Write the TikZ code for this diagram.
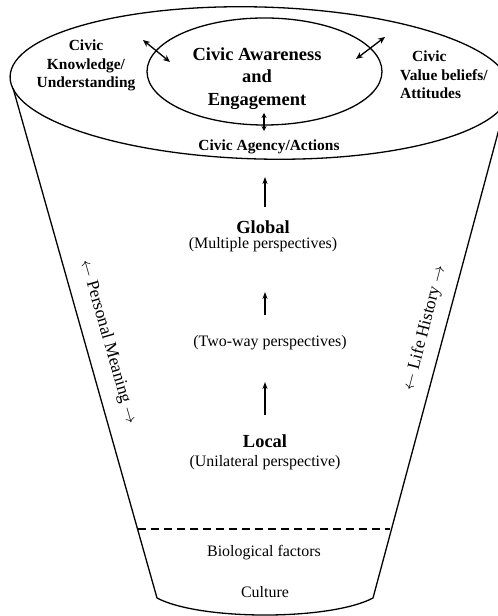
\documentclass[tikz,border=0pt]{standalone}
\usepackage{fontspec}
\setmainfont{Liberation Serif}
\usetikzlibrary{arrows.meta}
\begin{document}
\begin{tikzpicture}[x=1bp,y=1bp,
  outline/.style={line width=1.3bp},
  twohead/.style={line width=1.3bp,{Stealth[length=7bp,width=6bp]}-{Stealth[length=7bp,width=6bp]}},
  uparrow/.style={line width=1.3bp,-{Stealth[length=7bp,width=5bp]}},
  plain/.style={inner sep=0pt,align=center,font=\fontsize{16}{19}\selectfont},
  heading/.style={inner sep=0pt,align=center,font=\fontsize{18.5}{21.5}\selectfont\bfseries},
  facet/.style={inner sep=0pt,font=\fontsize{15.5}{18.5}\selectfont\bfseries},
  side/.style={inner sep=0pt,font=\fontsize{17.5}{21}\selectfont}]
\useasboundingbox (0,0) rectangle (498,616);
\begin{scope}
\clip (0,0) rectangle (498,616);

% rim of the funnel and the inner core
\draw[outline,rotate around={-1.5:(260,533)}] (260,533) ellipse [x radius=250, y radius=76];
\draw[outline] (264.5,544.5) ellipse [x radius=117.5, y radius=53.5];

% funnel sides and rounded bottom
\coordinate (topL) at (13,528);
\coordinate (topR) at (506.8,516);
\coordinate (botL) at (157,18);
\coordinate (botR) at (373,18);
\draw[outline] (topL) -- (botL) .. controls (200,-4.7) and (330,-4.7) .. (botR) -- (topR);

% base layer divider
\coordinate (dashL) at (138,87);
\coordinate (dashR) at (390,87);
\draw[line width=1.3bp,dash pattern=on 8bp off 5bp] (dashL) -- (dashR);
\end{scope}

% labels on the rim
\node[heading] (core) at (257,537.5) {Civic Awareness\\[1pt]and\\[1pt]Engagement};
\node[facet,align=center] (know) at (86,550.5) {Civic\\Knowledge/\\Understanding};
\node[facet,align=left,anchor=west] (value) at (400,541) {\hspace*{12bp}Civic\\Value beliefs/\\Attitudes};
\node[facet] (agency) at (269,469) {Civic Agency/Actions};

% links between the core and the facets
\coordinate (kA) at (143,576); \coordinate (kB) at (170,554);
\coordinate (vA) at (385,579); \coordinate (vB) at (356,557);
\coordinate (gA) at (264,503); \coordinate (gB) at (264,485);
\draw[twohead] (kA) -- (kB);
\draw[twohead] (vA) -- (vB);
\draw[line width=1.3bp,{Stealth[length=5bp,width=5bp]}-{Stealth[length=5bp,width=5bp]}] (gA) -- (gB);

% levels of perspective
\node[heading] (global) at (263,389) {Global};
\node[plain] (multi) at (263,371) {(Multiple perspectives)};
\node[plain] (twoway) at (270,273) {(Two-way perspectives)};
\node[heading] (local) at (265,175) {Local};
\node[plain] (uni) at (265,153) {(Unilateral perspective)};

\coordinate (u1a) at (265,409); \coordinate (u1b) at (265,439);
\coordinate (u2a) at (265,301); \coordinate (u2b) at (265,324);
\coordinate (u3a) at (265,201); \coordinate (u3b) at (265,234);
\draw[uparrow] (u1a) -- (u1b);
\draw[uparrow] (u2a) -- (u2b);
\draw[uparrow] (u3a) -- (u3b);

% side labels along the funnel walls
\node[side,rotate=-74] (meaning) at (108,274) {$\leftarrow$ Personal Meaning $\rightarrow$};
\node[side,rotate=75.5] (history) at (425,288) {$\leftarrow$ Life History $\rightarrow$};

% base layer
\node[plain] (bio) at (264,63) {Biological factors};
\node[plain] (culture) at (265,24) {Culture};
\end{tikzpicture}
\end{document}
